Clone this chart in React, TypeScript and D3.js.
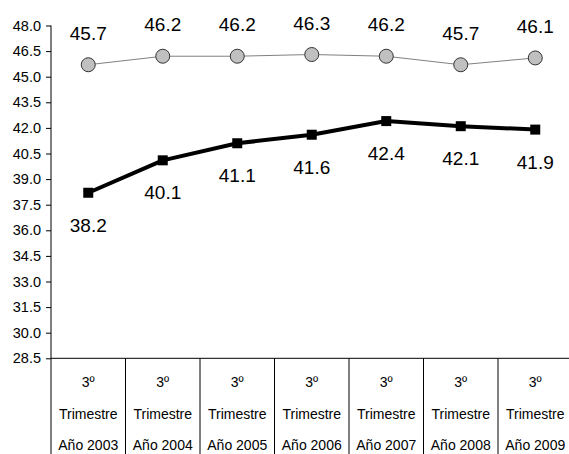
import { useEffect, useRef } from "react";
import * as d3 from "d3";

const categories = ["2003", "2004", "2005", "2006", "2007", "2008", "2009"];
const upperSeries = [45.7, 46.2, 46.2, 46.3, 46.2, 45.7, 46.1];
const lowerSeries = [38.2, 40.1, 41.1, 41.6, 42.4, 42.1, 41.9];
const yTicks = [28.5, 30.0, 31.5, 33.0, 34.5, 36.0, 37.5, 39.0, 40.5, 42.0, 43.5, 45.0, 46.5, 48.0];

const width = 569;
const height = 454;
const font = "'Liberation Sans', Arial, sans-serif";

const App = () => {
  const svgRef = useRef<SVGSVGElement>(null);

  useEffect(() => {
    if (!svgRef.current) return;
    const svg = d3.select(svgRef.current);
    svg.selectAll("*").remove();

    const left = 51;
    const right = 572.5;
    const top = 25.5;
    const bottom = 358.3;

    const x = d3.scaleBand<string>().domain(categories).range([left, right]);
    const y = d3.scaleLinear().domain([28.5, 48]).range([bottom, top]);
    const cx = (c: string) => (x(c) ?? 0) + x.bandwidth() / 2;

    // y axis
    const yAxis = svg
      .append("g")
      .attr("transform", `translate(${left},0)`)
      .call(
        d3
          .axisLeft(y)
          .tickValues(yTicks)
          .tickSize(5)
          .tickPadding(5)
          .tickFormat((d) => d3.format(".1f")(d as number))
      );
    yAxis.select(".domain").remove();
    yAxis.selectAll(".tick line").attr("stroke", "#000");
    yAxis
      .selectAll(".tick text")
      .attr("font-family", font)
      .attr("font-size", 14.5)
      .attr("fill", "#000");

    svg
      .append("line")
      .attr("x1", left)
      .attr("x2", left)
      .attr("y1", top)
      .attr("y2", height)
      .attr("stroke", "#000");

    // x axis baseline
    svg
      .append("line")
      .attr("x1", left)
      .attr("x2", right)
      .attr("y1", bottom)
      .attr("y2", bottom)
      .attr("stroke", "#000");

    // category separators
    svg
      .selectAll(".sep")
      .data(categories.slice(1))
      .enter()
      .append("line")
      .attr("class", "sep")
      .attr("x1", (d) => x(d) ?? 0)
      .attr("x2", (d) => x(d) ?? 0)
      .attr("y1", bottom)
      .attr("y2", height)
      .attr("stroke", "#000");

    // category labels
    const catG = svg
      .selectAll(".cat")
      .data(categories)
      .enter()
      .append("text")
      .attr("class", "cat")
      .attr("text-anchor", "middle")
      .attr("font-family", font)
      .attr("font-size", 14)
      .attr("fill", "#000");
    catG
      .append("tspan")
      .attr("x", (d) => cx(d))
      .attr("y", 387)
      .text("3º");
    catG
      .append("tspan")
      .attr("x", (d) => cx(d))
      .attr("y", 419)
      .text("Trimestre");
    catG
      .append("tspan")
      .attr("x", (d) => cx(d))
      .attr("y", 450)
      .text((d) => `Año ${d}`);

    // upper (gray) series
    const seriesLine = d3
      .line<number>()
      .x((_, i) => cx(categories[i]))
      .y((d) => y(d));
    svg
      .append("path")
      .attr("d", seriesLine(upperSeries))
      .attr("fill", "none")
      .attr("stroke", "#808080")
      .attr("stroke-width", 1);
    svg
      .selectAll(".upper-pt")
      .data(upperSeries)
      .enter()
      .append("circle")
      .attr("class", "upper-pt")
      .attr("cx", (_, i) => cx(categories[i]))
      .attr("cy", (d) => y(d))
      .attr("r", 7)
      .attr("fill", "#c0c0c0")
      .attr("stroke", "#333")
      .attr("stroke-width", 1);
    svg
      .selectAll(".upper-lbl")
      .data(upperSeries)
      .enter()
      .append("text")
      .attr("class", "upper-lbl")
      .attr("x", (_, i) => cx(categories[i]))
      .attr("y", (d) => y(d) - 25)
      .attr("text-anchor", "middle")
      .attr("font-family", font)
      .attr("font-size", 19)
      .attr("fill", "#000")
      .text((d) => d.toFixed(1));

    // lower (black) series
    svg
      .append("path")
      .attr("d", seriesLine(lowerSeries))
      .attr("fill", "none")
      .attr("stroke", "#000")
      .attr("stroke-width", 4)
      .attr("stroke-linejoin", "round");
    svg
      .selectAll(".lower-pt")
      .data(lowerSeries)
      .enter()
      .append("rect")
      .attr("class", "lower-pt")
      .attr("x", (_, i) => cx(categories[i]) - 5)
      .attr("y", (d) => y(d) - 5)
      .attr("width", 10)
      .attr("height", 10)
      .attr("fill", "#000");
    svg
      .selectAll(".lower-lbl")
      .data(lowerSeries)
      .enter()
      .append("text")
      .attr("class", "lower-lbl")
      .attr("x", (_, i) => cx(categories[i]))
      .attr("y", (d) => y(d) + 39)
      .attr("text-anchor", "middle")
      .attr("font-family", font)
      .attr("font-size", 19)
      .attr("fill", "#000")
      .text((d) => d.toFixed(1));
  }, []);

  return (
    <div style={{ position: "fixed", left: 0, top: 0 }}>
      <svg ref={svgRef} width={width} height={height} style={{ display: "block", background: "#fff" }} />
    </div>
  );
};

export default App;
